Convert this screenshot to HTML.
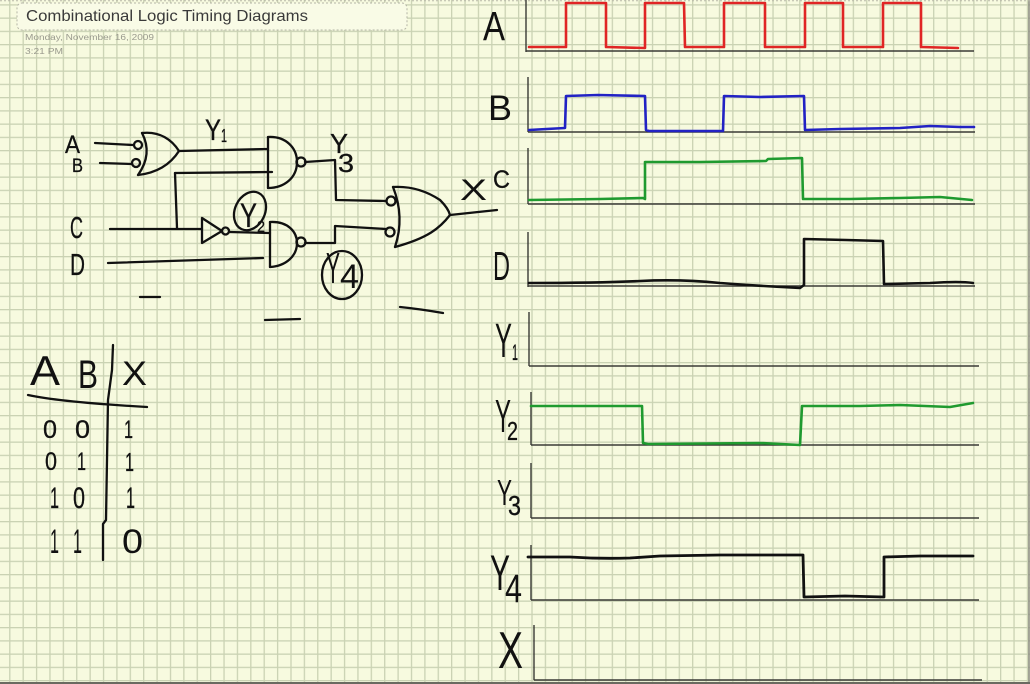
<!DOCTYPE html>
<html>
<head>
<meta charset="utf-8">
<style>
  html,body{margin:0;padding:0;background:#f7fadf;}
  svg{display:block;}
  .hw{font-family:"Liberation Sans","DejaVu Sans",sans-serif;fill:#111;stroke:#111;stroke-width:0.3;}
  .big{stroke-width:0;}
</style>
</head>
<body>
<svg width="1030" height="684" viewBox="0 0 1030 684" xmlns="http://www.w3.org/2000/svg">
  <defs>
    <pattern id="gv" x="9.15" y="0" width="13.39" height="684" patternUnits="userSpaceOnUse">
      <rect x="0" y="0" width="1.3" height="684" fill="#cad2b3"/>
    </pattern>
    <pattern id="gh" x="0" y="4.25" width="1030" height="13.25" patternUnits="userSpaceOnUse">
      <rect x="0" y="0" width="1030" height="1.3" fill="#cad2b3"/>
    </pattern>
  </defs>
  <rect x="0" y="0" width="1030" height="684" fill="#f7fadf"/>
  <rect x="0" y="0" width="1030" height="684" fill="url(#gv)"/>
  <rect x="0" y="0" width="1030" height="684" fill="url(#gh)"/>

  <!-- frame edges -->
  <line x1="1029" y1="0" x2="1029" y2="684" stroke="#8a8a80" stroke-width="1.5"/>
  <line x1="0" y1="683" x2="1030" y2="683" stroke="#6a6a60" stroke-width="2"/>
  <line x1="0" y1="0.7" x2="1030" y2="0.7" stroke="#b8b8a8" stroke-width="1" stroke-dasharray="2,2"/>

  <!-- title box -->
  <rect x="17" y="3" width="390" height="27" rx="5" fill="#f9fbe6" stroke="#b4b4a6" stroke-width="1" stroke-dasharray="2,2"/>
  <text x="26" y="21" font-family="Liberation Sans, sans-serif" font-size="16" fill="#3a3a3a" textLength="282" lengthAdjust="spacingAndGlyphs">Combinational Logic Timing Diagrams</text>
  <text x="25" y="40" font-family="Liberation Sans, sans-serif" font-size="8" fill="#9a9a8e" textLength="129" lengthAdjust="spacingAndGlyphs">Monday, November 16, 2009</text>
  <text x="25" y="54" font-family="Liberation Sans, sans-serif" font-size="8" fill="#9a9a8e" textLength="38" lengthAdjust="spacingAndGlyphs">3:21 PM</text>

  <!-- ================= CIRCUIT ================= -->
  <g fill="none" stroke="#111" stroke-width="2.3" stroke-linecap="round" stroke-linejoin="round">
    <path d="M95,143 L133,145"/>
    <path d="M100,163 L132,164"/>
    <circle cx="138" cy="145" r="4"/>
    <circle cx="136" cy="163" r="4"/>
    <path d="M142,133 Q153,154 138,175"/>
    <path d="M142,133 C160,131 172,140 179,151 C170,165 156,173 138,175"/>
    <path d="M179,151 L268,149"/>
    <path d="M268,137 L268,188"/>
    <path d="M268,137 C286,136 297,148 297,162 C297,178 284,188 268,188"/>
    <circle cx="301" cy="162" r="4.5"/>
    <path d="M175,173 L272,172"/>
    <path d="M175,173 L177,228"/>
    <path d="M110,229 L202,229"/>
    <path d="M202,218 L202,243 L222,231 Z"/>
    <circle cx="225.5" cy="231" r="3.5"/>
    <path d="M229,232 L270,233"/>
    <path d="M270,222 L270,267"/>
    <path d="M270,222 C288,221 297,232 297,243 C297,256 286,266 270,267"/>
    <circle cx="301" cy="242" r="4.5"/>
    <path d="M108,263 L263,258"/>
    <path d="M305,162 L335,160 L336,200 L386,201"/>
    <path d="M305,243 L335,243 L335,226 L386,229"/>
    <path d="M393,187 Q405,217 395,247"/>
    <path d="M393,187 C410,186 425,190 440,200 C446,206 449,211 450,215 C440,228 428,238 395,247"/>
    <circle cx="391" cy="201" r="4.5"/>
    <circle cx="390" cy="232" r="4.5"/>
    <path d="M450,215 L497,210"/>
    <ellipse cx="250" cy="211" rx="15" ry="20" transform="rotate(25 250 211)"/>
    <ellipse cx="342" cy="275" rx="20" ry="24"/>
    <path d="M140,297 L160,297"/>
    <path d="M265,320 L300,319"/>
    <path d="M400,307 Q420,309 443,313"/>
  </g>

  <!-- circuit labels -->
  <text class="hw" x="65" y="153" font-size="25" textLength="15" lengthAdjust="spacingAndGlyphs">A</text>
  <text class="hw" x="72" y="172" font-size="19" textLength="11" lengthAdjust="spacingAndGlyphs">B</text>
  <text class="hw" x="70" y="238" font-size="31" textLength="13" lengthAdjust="spacingAndGlyphs">C</text>
  <text class="hw" x="70" y="275" font-size="31" textLength="15" lengthAdjust="spacingAndGlyphs">D</text>
  <text class="hw" x="205" y="140" font-size="30" textLength="16" lengthAdjust="spacingAndGlyphs">Y</text>
  <text class="hw" x="221" y="142" font-size="18" textLength="6" lengthAdjust="spacingAndGlyphs">1</text>
  <text class="hw" x="330" y="153" font-size="28" textLength="18" lengthAdjust="spacingAndGlyphs">Y</text>
  <text class="hw" x="338" y="172" font-size="26" textLength="16" lengthAdjust="spacingAndGlyphs">3</text>
  <text class="hw big" x="460" y="200" font-size="30" textLength="27" lengthAdjust="spacingAndGlyphs">X</text>
  <text class="hw" x="240" y="227" font-size="34" textLength="17" lengthAdjust="spacingAndGlyphs">Y</text>
  <text class="hw" x="257" y="232" font-size="16" textLength="8" lengthAdjust="spacingAndGlyphs">2</text>
  <text class="hw big" x="326" y="283" font-size="44" textLength="14" lengthAdjust="spacingAndGlyphs">Y</text>
  <text class="hw big" x="340" y="288" font-size="34" textLength="19" lengthAdjust="spacingAndGlyphs">4</text>

  <!-- ================= TRUTH TABLE ================= -->
  <g fill="none" stroke="#111" stroke-width="2.3" stroke-linecap="round" stroke-linejoin="round">
    <path d="M113,345 L112,370 L108,400 L107,460 L106,520 L103,524 L103,560"/>
    <path d="M28,395 Q60,402 147,407"/>
  </g>
  <text class="hw big" x="30" y="385" font-size="42" textLength="30" lengthAdjust="spacingAndGlyphs">A</text>
  <text class="hw big" x="78" y="388" font-size="40" textLength="20" lengthAdjust="spacingAndGlyphs">B</text>
  <text class="hw big" x="122" y="385" font-size="34" textLength="25" lengthAdjust="spacingAndGlyphs">X</text>

  <text class="hw" x="43" y="438" font-size="25" textLength="14" lengthAdjust="spacingAndGlyphs">0</text>
  <text class="hw" x="75" y="438" font-size="25" textLength="15" lengthAdjust="spacingAndGlyphs">0</text>
  <text class="hw" x="124" y="438" font-size="25" textLength="9" lengthAdjust="spacingAndGlyphs">1</text>

  <text class="hw" x="45" y="470" font-size="25" textLength="12" lengthAdjust="spacingAndGlyphs">0</text>
  <text class="hw" x="77" y="470" font-size="25" textLength="9" lengthAdjust="spacingAndGlyphs">1</text>
  <text class="hw" x="125" y="471" font-size="26" textLength="9" lengthAdjust="spacingAndGlyphs">1</text>

  <text class="hw" x="50" y="508" font-size="30" textLength="9" lengthAdjust="spacingAndGlyphs">1</text>
  <text class="hw" x="73" y="508" font-size="30" textLength="12" lengthAdjust="spacingAndGlyphs">0</text>
  <text class="hw" x="126" y="508" font-size="30" textLength="9" lengthAdjust="spacingAndGlyphs">1</text>

  <text class="hw big" x="50" y="553" font-size="34" textLength="9" lengthAdjust="spacingAndGlyphs">1</text>
  <text class="hw big" x="73" y="553" font-size="34" textLength="9" lengthAdjust="spacingAndGlyphs">1</text>
  <text class="hw big" x="122" y="553" font-size="34" textLength="21" lengthAdjust="spacingAndGlyphs">0</text>

  <!-- ================= TIMING AXES ================= -->
  <g fill="none" stroke="#3a3a36" stroke-width="1.4">
    <path d="M526,0 L526,52 M526,51 L974,51"/>
    <path d="M528,77 L528,132 M528,132 L975,132"/>
    <path d="M528,148 L528,204 M528,204 L975,204"/>
    <path d="M528,232 L528,287 M528,286 L975,286"/>
    <path d="M529,312 L529,366 M529,366 L979,366"/>
    <path d="M531,392 L531,445 M531,445 L979,445"/>
    <path d="M531,463 L531,518 M531,518 L979,518"/>
    <path d="M531,545 L531,600 M531,600 L979,600"/>
    <path d="M534,625 L534,680 M534,680 L982,680"/>
  </g>

  <!-- ================= WAVEFORMS ================= -->
  <g fill="none" stroke-width="2.6" stroke-linecap="round" stroke-linejoin="round">
    <path stroke="#e02525" d="M529,47 L566,47 L566,3 L606,3 L606,47 L645,48 L645,3 L684,3 L685,47 L724,47 L724,3 L765,3 L765,47 L805,47 L805,3 L843,3 L843,47 L883,47 L883,3 L921,3 L921,47 L958,48"/>
    <path stroke="#2222c4" d="M529,130 L565,128 L566,96 L598,95 L645,96 L646,130 L649,131 L723,131 L724,96 L760,97 L804,96 L805,130 L840,129 L900,128 L930,126 L960,127 L974,127"/>
    <path stroke="#1f9a2f" d="M529,200 L600,199 L643,198 L645,199 L645,162 L700,162 L766,161 L768,159 L802,158 L803,199 L850,199 L900,198 L940,197 L972,200"/>
    <path stroke="#111" d="M529,283 Q600,283 640,281 Q680,279 720,283 Q760,286 800,288 L804,285 L804,239 L846,240 L883,241 L884,284 L930,283 Q960,281 973,283"/>
    <path stroke="#1f9a2f" d="M531,406 L600,406 L642,406 L643,443 L648,444 L760,443 L800,445 L802,406 L860,406 L900,405 L950,407 L973,403"/>
    <path stroke="#111" stroke-width="2.8" d="M528,557 L570,557 Q600,559 630,558 L660,556 L720,555 L770,555 L803,555 L804,597 L845,596 L884,597 L884,557 L920,556 L973,556"/>
  </g>

  <!-- timing labels -->
  <text class="hw big" x="483" y="40" font-size="41" textLength="22" lengthAdjust="spacingAndGlyphs">A</text>
  <text class="hw big" x="488" y="120" font-size="35" textLength="24" lengthAdjust="spacingAndGlyphs">B</text>
  <text class="hw" x="493" y="188" font-size="25" textLength="17" lengthAdjust="spacingAndGlyphs">C</text>
  <text class="hw big" x="493" y="280" font-size="41" textLength="17" lengthAdjust="spacingAndGlyphs">D</text>
  <text class="hw big" x="495" y="357" font-size="48" textLength="17" lengthAdjust="spacingAndGlyphs">Y</text>
  <text class="hw" x="512" y="360" font-size="22" textLength="6" lengthAdjust="spacingAndGlyphs">1</text>
  <text class="hw big" x="495" y="432" font-size="46" textLength="16" lengthAdjust="spacingAndGlyphs">Y</text>
  <text class="hw" x="507" y="440" font-size="26" textLength="11" lengthAdjust="spacingAndGlyphs">2</text>
  <text class="hw big" x="497" y="505" font-size="36" textLength="15" lengthAdjust="spacingAndGlyphs">Y</text>
  <text class="hw" x="508" y="515" font-size="28" textLength="13" lengthAdjust="spacingAndGlyphs">3</text>
  <text class="hw big" x="490" y="590" font-size="50" textLength="20" lengthAdjust="spacingAndGlyphs">Y</text>
  <text class="hw big" x="505" y="602" font-size="40" textLength="17" lengthAdjust="spacingAndGlyphs">4</text>
  <text class="hw big" x="498" y="668" font-size="52" textLength="25" lengthAdjust="spacingAndGlyphs">X</text>
</svg>
</body>
</html>
